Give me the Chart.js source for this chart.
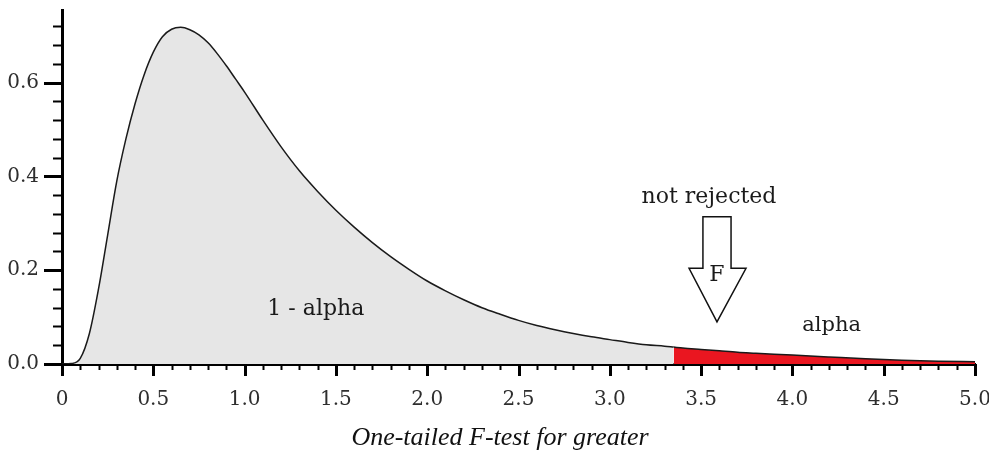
<!DOCTYPE html>
<html>
<head>
<meta charset="utf-8">
<script src="https://cdn.jsdelivr.net/npm/chart.js@4/dist/chart.umd.min.js"></script>
<style>
  html, body { margin: 0; padding: 0; background: #ffffff; }
  canvas { display: block; }
</style>
</head>
<body>
<canvas id="c" width="989" height="452"></canvas>
<script>
// ---- data ----
const xValues = [0, 0.05, 0.1, 0.15, 0.2, 0.25, 0.3, 0.35, 0.4, 0.45, 0.5, 0.55, 0.6, 0.65, 0.7, 0.75, 0.8, 0.85, 0.9, 0.95,
  1.0, 1.1, 1.2, 1.3, 1.4, 1.5, 1.6, 1.7, 1.8, 1.9, 2.0, 2.1, 2.2, 2.3, 2.4, 2.5, 2.6, 2.7, 2.8, 2.9, 3.0, 3.1, 3.2, 3.3, 3.35,
  3.4, 3.5, 3.6, 3.7, 3.8, 3.9, 4.0, 4.2, 4.4, 4.6, 4.8, 5.0];
const densityValues = [0, 0.001, 0.012, 0.065, 0.16, 0.275, 0.39, 0.48, 0.555, 0.617, 0.665, 0.698, 0.714, 0.718, 0.713, 0.702, 0.685, 0.662, 0.636, 0.608,
  0.580, 0.520, 0.463, 0.412, 0.368, 0.328, 0.292, 0.259, 0.229, 0.202, 0.177, 0.156, 0.137, 0.120, 0.106, 0.093, 0.082, 0.073, 0.065, 0.058, 0.052, 0.046, 0.041, 0.038, 0.036,
  0.034, 0.031, 0.028, 0.025, 0.023, 0.021, 0.019, 0.015, 0.011, 0.008, 0.006, 0.005];
const criticalF = 3.35;
const xTickValues = [0, 0.5, 1.0, 1.5, 2.0, 2.5, 3.0, 3.5, 4.0, 4.5, 5.0];
const yTickValues = [0, 0.2, 0.4, 0.6];
const regionLabels = ['1 - alpha', 'alpha'];
const arrowLabel = 'F';
const arrowCaption = 'not rejected';
const captionText = 'One-tailed F-test for greater';

// ---- build datasets ----
const points = xValues.map((x, i) => ({ x: x, y: densityValues[i] }));
const acceptPts = points.filter(p => p.x <= criticalF);
const rejectPts = points.filter(p => p.x >= criticalF);

const serif = "'DejaVu Serif', serif";

const decorPlugin = {
  id: 'decor',
  afterDatasetsDraw(chart) {
    const ctx = chart.ctx;
    const xs = chart.scales.x, ys = chart.scales.y;
    const area = chart.chartArea;
    ctx.save();
    // minor + major tick marks
    ctx.strokeStyle = '#000';
    for (let i = 0; i <= 50; i++) {
      const major = i % 5 === 0;
      const px = Math.round(xs.getPixelForValue(i / 10)) + 0.5;
      ctx.lineWidth = major ? 3 : 2;
      ctx.beginPath();
      ctx.moveTo(px, area.bottom);
      ctx.lineTo(px, area.bottom + (major ? 12 : 6));
      ctx.stroke();
    }
    for (let i = 0; i <= 18; i++) {
      const major = i % 5 === 0;
      const py = Math.round(ys.getPixelForValue(i * 0.04)) + 0.5;
      ctx.lineWidth = major ? 3 : 2;
      ctx.beginPath();
      ctx.moveTo(area.left, py);
      ctx.lineTo(area.left - (major ? 18 : 9), py);
      ctx.stroke();
    }
    // region labels
    ctx.fillStyle = '#1a1a1a';
    ctx.textAlign = 'center';
    ctx.textBaseline = 'alphabetic';
    ctx.font = "22px " + serif;
    ctx.fillText(regionLabels[0], xs.getPixelForValue(1.39), ys.getPixelForValue(0.105));
    ctx.font = "21px " + serif;
    ctx.fillText(regionLabels[1], xs.getPixelForValue(4.215), ys.getPixelForValue(0.071));
    ctx.font = "22px " + serif;
    ctx.fillText(arrowCaption, xs.getPixelForValue(3.543), ys.getPixelForValue(0.343));
    // arrow
    const sl = xs.getPixelForValue(3.51), sr = xs.getPixelForValue(3.664);
    const hl = xs.getPixelForValue(3.434), hr = xs.getPixelForValue(3.746);
    const tx = xs.getPixelForValue(3.587);
    const top = ys.getPixelForValue(0.314), base = ys.getPixelForValue(0.204), tip = ys.getPixelForValue(0.090);
    ctx.beginPath();
    ctx.moveTo(sl, top);
    ctx.lineTo(sr, top);
    ctx.lineTo(sr, base);
    ctx.lineTo(hr, base);
    ctx.lineTo(tx, tip);
    ctx.lineTo(hl, base);
    ctx.lineTo(sl, base);
    ctx.closePath();
    ctx.fillStyle = '#ffffff';
    ctx.fill();
    ctx.lineWidth = 1.5;
    ctx.strokeStyle = '#111';
    ctx.stroke();
    ctx.fillStyle = '#1a1a1a';
    ctx.font = "22px " + serif;
    ctx.textBaseline = 'middle';
    ctx.fillText(arrowLabel, tx, ys.getPixelForValue(0.190));
    // caption
    ctx.textBaseline = 'alphabetic';
    ctx.font = "italic 26px 'Liberation Serif', 'Times New Roman', serif";
    ctx.fillStyle = '#111';
    ctx.fillText(captionText, 500, 445);
    ctx.restore();
  }
};

new Chart(document.getElementById('c'), {
  type: 'scatter',
  data: {
    datasets: [
      {
        data: acceptPts,
        showLine: true,
        pointRadius: 0,
        borderColor: '#1a1a1a',
        borderWidth: 1.5,
        backgroundColor: '#e6e6e6',
        fill: 'origin',
        cubicInterpolationMode: 'monotone'
      },
      {
        data: rejectPts,
        showLine: true,
        pointRadius: 0,
        borderColor: '#1a1a1a',
        borderWidth: 1.5,
        backgroundColor: '#ea1620',
        fill: 'origin',
        cubicInterpolationMode: 'monotone'
      }
    ]
  },
  options: {
    responsive: false,
    devicePixelRatio: 1,
    animation: false,
    layout: { padding: { left: 0, right: 14, top: 10, bottom: 0 } },
    plugins: { legend: { display: false }, tooltip: { enabled: false } },
    scales: {
      x: {
        type: 'linear',
        min: 0,
        max: 5,
        afterFit: s => { s.height = 88; s.paddingLeft = 0; s.paddingRight = 0; },
        afterBuildTicks: s => { s.ticks = xTickValues.map(v => ({ value: v })); },
        grid: { display: false },
        border: { display: true, color: '#000', width: 3 },
        ticks: {
          padding: 16,
          color: '#2e2e2e',
          font: { family: serif, size: 20 },
          maxRotation: 0,
          autoSkip: false,
          callback: v => (v === 0 ? '0' : Number(v).toFixed(1))
        }
      },
      y: {
        type: 'linear',
        min: 0,
        max: 0.755,
        afterFit: s => { s.width = 62; s.paddingTop = 0; s.paddingBottom = 0; },
        afterBuildTicks: s => { s.ticks = yTickValues.map(v => ({ value: v })); },
        grid: { display: false },
        border: { display: true, color: '#000', width: 3 },
        ticks: {
          padding: 15,
          color: '#2e2e2e',
          font: { family: serif, size: 20 },
          callback: v => Number(v).toFixed(1)
        }
      }
    }
  },
  plugins: [decorPlugin]
});
</script>
</body>
</html>
